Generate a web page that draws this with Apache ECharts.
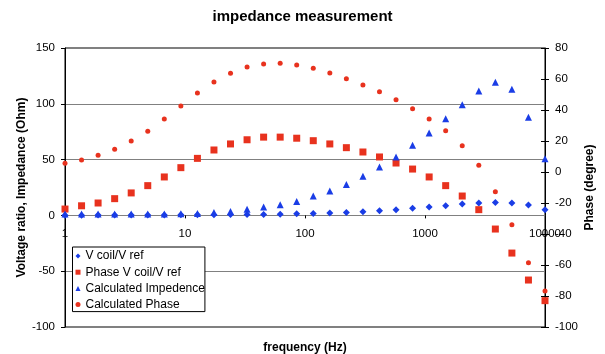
<!DOCTYPE html>
<html>
<head>
<meta charset="utf-8">
<script src="https://cdn.jsdelivr.net/npm/echarts@6/dist/echarts.min.js"></script>
<style>
html,body{margin:0;padding:0;background:#fff;}
#chart{width:605px;height:354px;}
</style>
</head>
<body>
<div id="chart"></div>
<script>
// ---- data ----
var frequencies = [1, 1.374, 1.887, 2.593, 3.562, 4.894, 6.723, 9.237, 12.69, 17.43,
  23.95, 32.9, 45.2, 62.1, 85.3, 117.2, 161, 221.2, 303.9, 417.5,
  573.6, 788, 1083, 1487, 2043, 2807, 3857, 5298, 7279, 10000];
var vRatio = [0.2, 0.2, 0.3, 0.3, 0.3, 0.4, 0.4, 0.5, 0.5, 0.6,
  0.7, 0.8, 0.9, 1.1, 1.5, 1.8, 2.2, 2.7, 3.3, 4.2,
  5.1, 6.3, 7.5, 8.7, 10.2, 11.1, 11.6, 11.1, 9.3, 5.1];
var phaseRatio = [-23.9, -21.8, -20, -17.2, -13.5, -8.8, -3.2, 2.8, 8.8, 14.2,
  18.1, 20.8, 22.5, 22.5, 21.8, 20.2, 18.1, 15.7, 12.9, 9.7,
  5.8, 1.9, -3.2, -8.8, -15.5, -24.3, -36.8, -52.3, -69.7, -83];
var calcImpedance = [1.25, 1.25, 1.25, 1.25, 1.25, 1.25, 1.25, 1.5, 1.8, 2.7,
  3.6, 5.4, 7.5, 9.6, 12.5, 17.3, 21.8, 27.8, 35, 43.3,
  52.3, 62.8, 73.8, 86.7, 99.2, 111.4, 119.2, 113, 88, 50.8];
var calcPhase = [5.6, 7.7, 10.8, 14.6, 20, 26.3, 34.2, 42.6, 51, 58.1,
  63.7, 67.7, 69.7, 70.1, 69, 66.9, 63.9, 60.2, 56.1, 51.8,
  46.6, 40.8, 34.2, 26.6, 17, 4.3, -12.7, -34, -58.5, -76.8];
var seriesNames = ['V coil/V ref', 'Phase V coil/V ref', 'Calculated Impedence', 'Calculated Phase'];
var titleText = 'impedance measurement';
var xName = 'frequency (Hz)';
var leftName = 'Voltage ratio, Impedance (Ohm)';
var rightName = 'Phase (degree)';

function pairs(ys) { return frequencies.map(function (f, i) { return [f, ys[i]]; }); }

var FONT = 'Liberation Sans, Arial, sans-serif';
var BLUE = '#1a3de6';
var RED = '#e8321e';

var chart = echarts.init(document.getElementById('chart'), null, {renderer: 'canvas'});
var labelFmt = function (v) { return String(Math.round(v)); };
chart.setOption({
  animation: false,
  backgroundColor: '#fff',
  textStyle: {fontFamily: FONT},
  title: {
    text: titleText, left: 'center', top: 4,
    textStyle: {fontFamily: FONT, fontSize: 15, fontWeight: 'bold', color: '#000'}
  },
  legend: {
    orient: 'vertical', left: 72.5, top: 247,
    padding: [2, 0, 0, 3],
    itemGap: 2.2, itemWidth: 5, itemHeight: 5,
    backgroundColor: '#fff', borderColor: '#000', borderWidth: 1, borderRadius: 0,
    textStyle: {fontFamily: FONT, fontSize: 12, color: '#000', lineHeight: 14},
    data: [
      {name: seriesNames[0], icon: 'diamond'},
      {name: seriesNames[1], icon: 'rect'},
      {name: seriesNames[2], icon: 'triangle'},
      {name: seriesNames[3], icon: 'circle'}
    ]
  },
  grid: {left: 65, right: 60, top: 48, bottom: 27, outerBoundsMode: 'none', containLabel: false,
    show: true, borderColor: '#000', borderWidth: 1, backgroundColor: 'transparent'},
  xAxis: [
    {
      type: 'log', logBase: 10, min: 1, max: 10000, position: 'bottom',
      name: xName, nameLocation: 'middle', nameGap: 15, nameMoveOverlap: false,
      nameTextStyle: {fontFamily: FONT, fontSize: 12, fontWeight: 'bold', color: '#000'},
      axisLine: {show: false, onZero: false},
      axisTick: {show: false},
      minorTick: {show: false},
      axisLabel: {show: false},
      splitLine: {show: false}
    },
    {
      type: 'log', logBase: 10, min: 1, max: 10000, position: 'bottom', offset: 0,
      axisLine: {show: true, onZero: false, lineStyle: {color: '#808080', width: 1}},
      axisTick: {show: true, length: 3, lineStyle: {color: '#000'}},
      minorTick: {show: false},
      axisLabel: {fontFamily: FONT, fontSize: 11.5, color: '#000', margin: 12, formatter: labelFmt},
      splitLine: {show: false}
    }
  ],
  yAxis: [
    {
      type: 'value', min: -100, max: 150, interval: 50, position: 'left',
      name: leftName, nameLocation: 'middle', nameGap: 37, nameMoveOverlap: false,
      nameTextStyle: {fontFamily: FONT, fontSize: 12, fontWeight: 'bold', color: '#000'},
      axisLine: {show: true, onZero: false, lineStyle: {color: '#000'}},
      axisTick: {show: true, length: 4, lineStyle: {color: '#000'}},
      axisLabel: {fontFamily: FONT, fontSize: 11.5, color: '#000', margin: 10},
      splitLine: {show: true, lineStyle: {color: '#808080', width: 1}}
    },
    {
      type: 'value', min: -100, max: 80, interval: 20, position: 'right',
      name: rightName, nameLocation: 'middle', nameGap: 39, nameMoveOverlap: false,
      nameTextStyle: {fontFamily: FONT, fontSize: 12, fontWeight: 'bold', color: '#000'},
      axisLine: {show: true, onZero: false, lineStyle: {color: '#000'}},
      axisTick: {show: true, length: 4, lineStyle: {color: '#000'}},
      axisLabel: {fontFamily: FONT, fontSize: 11.5, color: '#000', margin: 10},
      splitLine: {show: false}
    },
    {
      type: 'value', min: -100, max: 80, interval: 20, position: 'right',
      axisLine: {show: false, onZero: false},
      axisTick: {show: true, inside: true, length: 4, lineStyle: {color: '#000'}},
      axisLabel: {show: false},
      splitLine: {show: false}
    }
  ],
  series: [
    {name: seriesNames[0], type: 'scatter', yAxisIndex: 0, symbol: 'diamond', symbolSize: 7,
      itemStyle: {color: BLUE, opacity: 1}, clip: false, data: pairs(vRatio)},
    {name: seriesNames[1], type: 'scatter', yAxisIndex: 1, symbol: 'rect', symbolSize: 7,
      itemStyle: {color: RED, opacity: 1}, clip: false, data: pairs(phaseRatio)},
    {name: seriesNames[2], type: 'scatter', yAxisIndex: 0, symbol: 'triangle', symbolSize: 7,
      itemStyle: {color: BLUE, opacity: 1}, clip: false, data: pairs(calcImpedance)},
    {name: seriesNames[3], type: 'scatter', yAxisIndex: 1, symbol: 'circle', symbolSize: 5,
      itemStyle: {color: RED, opacity: 1}, clip: false, data: pairs(calcPhase)}
  ]
});
// place the visible x axis on the zero line of the left value axis
var zeroY = chart.convertToPixel({yAxisIndex: 0}, 0);
var bottomY = chart.convertToPixel({yAxisIndex: 0}, -100);
chart.setOption({xAxis: [{}, {offset: zeroY - bottomY}]});
</script>
</body>
</html>
